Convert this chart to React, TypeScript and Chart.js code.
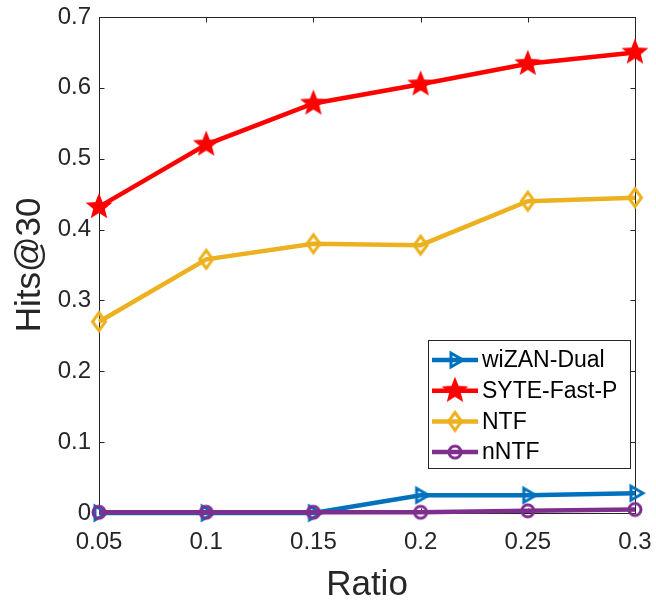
import { useEffect, useRef } from "react";
import { Chart, registerables } from "chart.js";

Chart.register(...registerables);

// Sampling ratios on the x axis
const RATIOS = [0.05, 0.1, 0.15, 0.2, 0.25, 0.3];
const X_TICKS = [0.05, 0.1, 0.15, 0.2, 0.25, 0.3];
const X_TICK_LABELS = ["0.05", "0.1", "0.15", "0.2", "0.25", "0.3"];
const Y_TICKS = [0, 0.1, 0.2, 0.3, 0.4, 0.5, 0.6, 0.7];
const Y_TICK_LABELS = ["0", "0.1", "0.2", "0.3", "0.4", "0.5", "0.6", "0.7"];

// Hits@30 for each method
const WIZAN_DUAL = [0.0, 0.0, 0.0, 0.025, 0.025, 0.028];
const SYTE_FAST_P = [0.432, 0.52, 0.578, 0.605, 0.634, 0.65];
const NTF = [0.27, 0.358, 0.38, 0.378, 0.44, 0.445];
const N_NTF = [0.001, 0.001, 0.001, 0.001, 0.003, 0.005];

const SERIES_NAMES = ["wiZAN-Dual", "SYTE-Fast-P", "NTF", "nNTF"];
const SERIES_VALUES = [WIZAN_DUAL, SYTE_FAST_P, NTF, N_NTF];
const SERIES_COLORS = ["#0072BD", "#FF0000", "#EDB120", "#7E2F8E"];
const SERIES_MARKERS = ["triangleRight", "star", "diamond", "circle"];

const X_TITLE = "Ratio";
const Y_TITLE = "Hits@30";

const AXIS_COLOR = "#262626";
const FONT = "'Liberation Sans', Arial, Helvetica, sans-serif";
const LINE_WIDTH = 4.5;

function makeMarker(kind: string, color: string): HTMLCanvasElement {
  const size = 32;
  const c = document.createElement("canvas");
  c.width = size;
  c.height = size;
  const g = c.getContext("2d")!;
  const cx = size / 2;
  const cy = size / 2;
  g.strokeStyle = color;
  g.fillStyle = color;
  g.lineWidth = 3;
  g.lineJoin = "miter";
  g.beginPath();
  if (kind === "star") {
    const outer = 12;
    const inner = 5.2;
    for (let i = 0; i < 10; i++) {
      const r = i % 2 === 0 ? outer : inner;
      const a = -Math.PI / 2 + (i * Math.PI) / 5;
      const px = cx + r * Math.cos(a);
      const py = cy + r * Math.sin(a);
      if (i === 0) g.moveTo(px, py);
      else g.lineTo(px, py);
    }
    g.closePath();
    g.fill();
    g.lineWidth = 1.5;
    g.stroke();
  } else if (kind === "triangleRight") {
    const r = 8;
    g.moveTo(cx + r, cy);
    g.lineTo(cx - r / 2, cy - r * 0.866);
    g.lineTo(cx - r / 2, cy + r * 0.866);
    g.closePath();
    g.stroke();
  } else if (kind === "diamond") {
    g.moveTo(cx, cy - 9);
    g.lineTo(cx + 6.5, cy);
    g.lineTo(cx, cy + 9);
    g.lineTo(cx - 6.5, cy);
    g.closePath();
    g.stroke();
  } else {
    g.arc(cx, cy, 6, 0, Math.PI * 2);
    g.stroke();
  }
  return c;
}

const framePlugin = {
  id: "matlabFrame",
  beforeDatasetsDraw(chart: any) {
    const { ctx, chartArea: a, scales } = chart;
    const left = Math.round(a.left) + 0.5;
    const right = Math.round(a.right) + 0.5;
    const top = Math.round(a.top) + 0.5;
    const bottom = Math.round(a.bottom) + 0.5;
    const tick = 5;
    ctx.save();
    ctx.strokeStyle = AXIS_COLOR;
    ctx.lineWidth = 1;
    ctx.strokeRect(left, top, right - left, bottom - top);
    ctx.beginPath();
    for (const v of X_TICKS) {
      const px = Math.round(scales.x.getPixelForValue(v)) + 0.5;
      ctx.moveTo(px, bottom);
      ctx.lineTo(px, bottom - tick);
      ctx.moveTo(px, top);
      ctx.lineTo(px, top + tick);
    }
    for (const v of Y_TICKS) {
      const py = Math.round(scales.y.getPixelForValue(v)) + 0.5;
      ctx.moveTo(left, py);
      ctx.lineTo(left + tick, py);
      ctx.moveTo(right, py);
      ctx.lineTo(right - tick, py);
    }
    ctx.stroke();

    // axis titles
    ctx.fillStyle = AXIS_COLOR;
    ctx.font = `35px ${FONT}`;
    ctx.textAlign = "center";
    ctx.textBaseline = "alphabetic";
    ctx.fillText(X_TITLE, (a.left + a.right) / 2, 595);
    ctx.translate(40, (a.top + a.bottom) / 2);
    ctx.rotate(-Math.PI / 2);
    ctx.fillText(Y_TITLE, 0, 0);
    ctx.restore();
  },
  afterDraw(chart: any) {
    const { ctx, chartArea: a } = chart;
    const boxRight = a.right - 5;
    const boxLeft = boxRight - 202;
    const boxBottom = a.bottom - 45;
    const boxTop = boxBottom - 128;
    ctx.save();
    ctx.fillStyle = "#ffffff";
    ctx.fillRect(boxLeft, boxTop, boxRight - boxLeft, boxBottom - boxTop);
    ctx.strokeStyle = AXIS_COLOR;
    ctx.lineWidth = 1;
    ctx.strokeRect(Math.round(boxLeft) + 0.5, Math.round(boxTop) + 0.5, boxRight - boxLeft, boxBottom - boxTop);
    ctx.font = `23px ${FONT}`;
    ctx.textAlign = "left";
    ctx.textBaseline = "middle";
    chart.data.datasets.forEach((ds: any, i: number) => {
      const y = boxTop + 20 + i * 30.7;
      const x0 = boxLeft + 4;
      const x1 = boxLeft + 50;
      ctx.strokeStyle = ds.borderColor;
      ctx.lineWidth = LINE_WIDTH;
      ctx.beginPath();
      ctx.moveTo(x0, y);
      ctx.lineTo(x1, y);
      ctx.stroke();
      const img = ds.pointStyle as HTMLCanvasElement;
      ctx.drawImage(img, (x0 + x1) / 2 - img.width / 2, y - img.height / 2);
      ctx.fillStyle = "#000000";
      ctx.fillText(ds.label, boxLeft + 54, y + 1);
    });
    ctx.restore();
  },
};

// Drop the label overhang padding so the plot box sits exactly inside the layout padding
function clearOverhang(s: any) {
  s.paddingLeft = 0;
  s.paddingRight = 0;
  s.paddingTop = 0;
  s.paddingBottom = 0;
}

export default function App() {
  const canvasRef = useRef<HTMLCanvasElement | null>(null);

  useEffect(() => {
    document.body.style.margin = "0";
    const canvas = canvasRef.current;
    if (!canvas) return;
    const datasets = SERIES_NAMES.map((name, i) => ({
      label: name,
      data: RATIOS.map((r, j) => ({ x: r, y: SERIES_VALUES[i][j] })),
      borderColor: SERIES_COLORS[i],
      backgroundColor: SERIES_COLORS[i],
      borderWidth: LINE_WIDTH,
      pointStyle: makeMarker(SERIES_MARKERS[i], SERIES_COLORS[i]) as any,
      pointRadius: 10,
      clip: false as any,
      order: SERIES_NAMES.length - i,
    }));
    const chart = new Chart(canvas, {
      type: "line",
      data: { datasets },
      options: {
        responsive: false,
        animation: false,
        devicePixelRatio: 1,
        layout: { padding: { top: 17, right: 21, left: 0, bottom: 0 } },
        plugins: { legend: { display: false }, tooltip: { enabled: false } },
        scales: {
          x: {
            type: "linear",
            min: 0.05,
            max: 0.3,
            grid: { display: false, drawTicks: false },
            border: { display: false },
            afterBuildTicks: (s: any) => {
              s.ticks = X_TICKS.map((v) => ({ value: v }));
            },
            afterFit: (s: any) => {
              s.height = 87;
              clearOverhang(s);
            },
            ticks: {
              autoSkip: false,
              maxRotation: 0,
              padding: 15,
              color: AXIS_COLOR,
              font: { family: FONT, size: 24 },
              callback: (v: any) => X_TICK_LABELS[X_TICKS.findIndex((t) => Math.abs(t - v) < 1e-9)] ?? "",
            },
          },
          y: {
            type: "linear",
            min: 0,
            max: 0.7,
            grid: { display: false, drawTicks: false },
            border: { display: false },
            afterBuildTicks: (s: any) => {
              s.ticks = Y_TICKS.map((v) => ({ value: v }));
            },
            afterFit: (s: any) => {
              s.width = 99;
              clearOverhang(s);
            },
            ticks: {
              autoSkip: false,
              padding: 8,
              color: AXIS_COLOR,
              font: { family: FONT, size: 24 },
              callback: (v: any) => Y_TICK_LABELS[Y_TICKS.findIndex((t) => Math.abs(t - v) < 1e-9)] ?? "",
            },
          },
        },
      },
      plugins: [framePlugin],
    });
    return () => chart.destroy();
  }, []);

  return (
    <div style={{ width: 656, height: 600 }}>
      <canvas ref={canvasRef} width={656} height={600} />
    </div>
  );
}
